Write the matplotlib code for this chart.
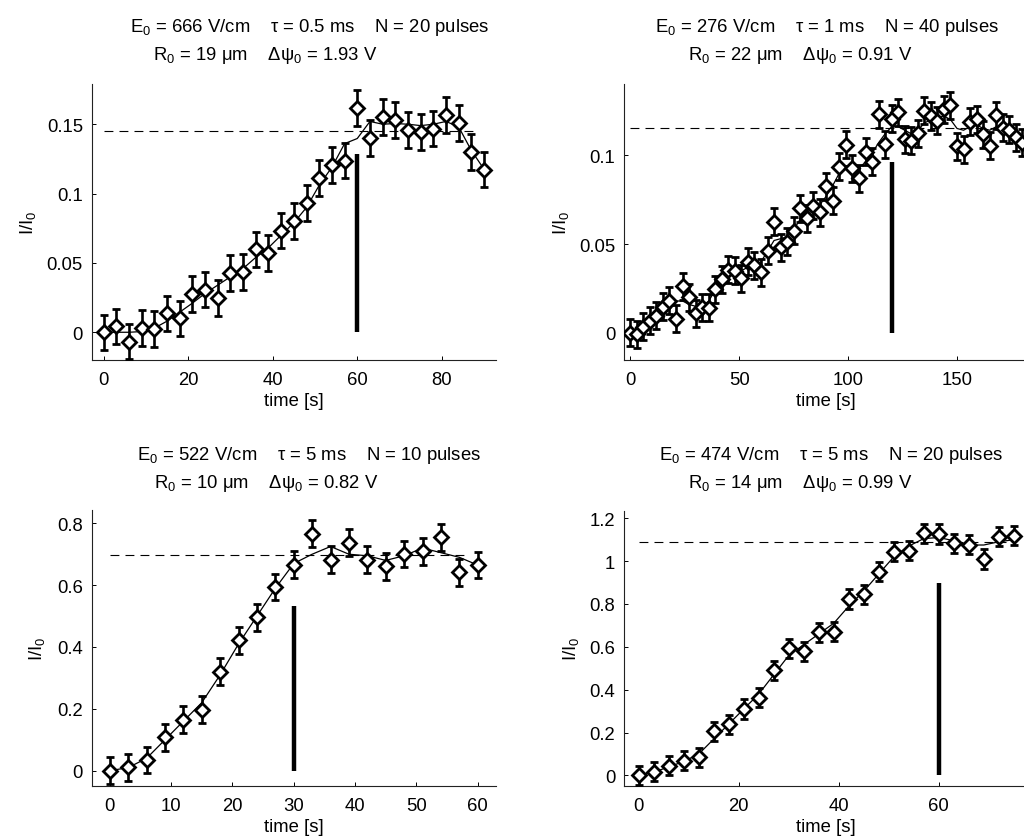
import matplotlib
matplotlib.use("Agg")
import matplotlib.pyplot as plt
from matplotlib.ticker import FuncFormatter
import numpy as np

plt.rcParams['font.family'] = ['Liberation Sans', 'DejaVu Sans']
plt.rcParams['mathtext.default'] = 'regular'
plt.rcParams['font.size'] = 13.3

# ---------------- data ----------------
# Panel A (top-left)
t_a = list(range(0, 91, 3))
y_a = [0.0, 0.0043, -0.0067, 0.003, 0.0024, 0.0137, 0.010, 0.0277, 0.0308, 0.0246,
       0.0426, 0.0433, 0.0597, 0.0573, 0.0732, 0.0802, 0.0932, 0.1112, 0.1206, 0.1238,
       0.1616, 0.1399, 0.1553, 0.1531, 0.1457, 0.1445, 0.1469, 0.1565, 0.151, 0.130, 0.1173]
fit_a = [0.0, 0.0, 0.0, 0.0005, 0.003, 0.008, 0.0145, 0.021, 0.028, 0.034,
         0.040, 0.046, 0.054, 0.061, 0.070, 0.079, 0.090, 0.106, 0.119, 0.136,
         0.1397, 0.152, 0.150, 0.1505, 0.150, 0.149, 0.150, 0.152, 0.148, 0.131, 0.1175]
err_a = 0.0128
plateau_a = 0.1452
stop_a = 60
bar_a = 0.1288

# Panel B (top-right)
t_b = list(range(0, 181, 3))
y_b = [0.0, -0.0006, 0.0036, 0.007, 0.0097, 0.0148, 0.018, 0.0079, 0.0262, 0.020,
       0.011, 0.0144, 0.0142, 0.0247, 0.0303, 0.0356, 0.035, 0.0309, 0.040, 0.0382,
       0.0341, 0.0463, 0.0625, 0.0481, 0.0513, 0.0575, 0.070, 0.0644, 0.0715, 0.068,
       0.0824, 0.0743, 0.0934, 0.1058, 0.0925, 0.0871, 0.1019, 0.0963, 0.123, 0.106,
       0.1206, 0.124, 0.109, 0.108, 0.1122, 0.1249, 0.122, 0.1193, 0.1258, 0.128,
       0.1049, 0.1034, 0.1187, 0.1202, 0.1118, 0.1052, 0.1225, 0.1155, 0.1142, 0.110, 0.107]
fit_b = [0.0, 0.001, 0.004, 0.007, 0.010, 0.014, 0.017, 0.018, 0.018, 0.016,
         0.015, 0.015, 0.018, 0.024, 0.030, 0.034, 0.035, 0.035, 0.037, 0.038,
         0.040, 0.046, 0.052, 0.053, 0.054, 0.058, 0.064, 0.067, 0.069, 0.072,
         0.077, 0.083, 0.090, 0.094, 0.094, 0.093, 0.096, 0.101, 0.107, 0.112,
         0.116, 0.116, 0.114, 0.112, 0.114, 0.118, 0.120, 0.121, 0.122, 0.120,
         0.115, 0.114, 0.116, 0.117, 0.115, 0.114, 0.116, 0.116, 0.114, 0.111, 0.108]
err_b = 0.0076
plateau_b = 0.1155
stop_b = 120
bar_b = 0.0963

# Panel C (bottom-left)
t_c = list(range(0, 61, 3))
y_c = [0.0, 0.011, 0.0345, 0.108, 0.165, 0.197, 0.320, 0.4216, 0.496, 0.594,
       0.666, 0.7666, 0.6825, 0.7375, 0.6825, 0.661, 0.701, 0.709, 0.7547, 0.6415, 0.665]
fit_c = [0.0, 0.01, 0.04, 0.10, 0.16, 0.22, 0.31, 0.41, 0.50, 0.59,
         0.67, 0.70, 0.725, 0.70, 0.695, 0.68, 0.695, 0.72, 0.705, 0.69, 0.665]
err_c = 0.043
plateau_c = 0.6976
stop_c = 30
bar_c = 0.5315

# Panel D (bottom-right)
t_d = list(range(0, 76, 3))
y_d = [0.0, 0.017, 0.045, 0.068, 0.084, 0.205, 0.238, 0.31, 0.363, 0.49,
       0.593, 0.579, 0.668, 0.671, 0.823, 0.845, 0.951, 1.044, 1.049, 1.130,
       1.127, 1.083, 1.077, 1.010, 1.114, 1.118]
fit_d = [0.0, 0.015, 0.04, 0.065, 0.10, 0.17, 0.24, 0.31, 0.38, 0.47,
         0.56, 0.61, 0.66, 0.71, 0.79, 0.86, 0.94, 1.02, 1.07, 1.105,
         1.11, 1.095, 1.075, 1.075, 1.09, 1.10]
err_d = 0.045
plateau_d = 1.088
stop_d = 60
bar_d = 0.8965

title1 = ['E$_0$ = 666 V/cm    τ = 0.5 ms    N = 20 pulses',
          'E$_0$ = 276 V/cm    τ = 1 ms    N = 40 pulses',
          'E$_0$ = 522 V/cm    τ = 5 ms    N = 10 pulses',
          'E$_0$ = 474 V/cm    τ = 5 ms    N = 20 pulses']
title2 = ['R$_0$ = 19 μm    Δψ$_0$ = 1.93 V',
          'R$_0$ = 22 μm    Δψ$_0$ = 0.91 V',
          'R$_0$ = 10 μm    Δψ$_0$ = 0.82 V',
          'R$_0$ = 14 μm    Δψ$_0$ = 0.99 V']
xticks = [[0, 20, 40, 60, 80], [0, 50, 100, 150], [0, 10, 20, 30, 40, 50, 60], [0, 20, 40, 60]]
yticks = [[0, 0.05, 0.1, 0.15], [0, 0.05, 0.1], [0, 0.2, 0.4, 0.6, 0.8],
          [0, 0.2, 0.4, 0.6, 0.8, 1.0, 1.2]]
xlims = [(-2.75, 92.7), (-2.75, 182.5), (-2.9, 62.9), (-2.9, 77.8)]
ylims = [(-0.02, 0.179), (-0.0152, 0.14), (-0.0485, 0.843), (-0.048, 1.236)]

# ---------------- layout (pixels) ----------------
W, H = 1024, 837
fig = plt.figure(figsize=(W / 100, H / 100), dpi=100)

ax_px = [(92, 85, 403.5, 276), (624.3, 85, 403.5, 276),
         (92, 511, 403.5, 275.7), (624.3, 511.5, 403.5, 275.2)]
t1_pos = [(309.5, 32), (827, 32), (309, 460), (831, 460)]
t2_pos = [(265, 60), (800, 60), (266, 488), (800, 488)]
ylab_x = [-0.135, -0.133, -0.112, -0.108]

panels = [(t_a, y_a, fit_a, err_a, plateau_a, stop_a, bar_a),
          (t_b, y_b, fit_b, err_b, plateau_b, stop_b, bar_b),
          (t_c, y_c, fit_c, err_c, plateau_c, stop_c, bar_c),
          (t_d, y_d, fit_d, err_d, plateau_d, stop_d, bar_d)]

fmt = FuncFormatter(lambda v, p: f'{v:g}')

for i, (t, y, fit, err, plat, stop, bar) in enumerate(panels):
    l, tp, w, h = ax_px[i]
    ax = fig.add_axes([l / W, 1 - (tp + h) / H, w / W, h / H])
    ax.plot(t, fit, color='black', lw=0.9, zorder=2)
    ax.plot([t[0], t[-1] - 1.5 * (t[1] - t[0]) / 3], [plat, plat], color='black', lw=0.8,
            dashes=(8, 5.5), zorder=1)
    ax.errorbar(t, y, yerr=err, fmt='D', color='black', mfc='white', mec='black',
                ms=6.8, mew=2.0, elinewidth=1.9, capsize=3.2, capthick=1.9, zorder=3)
    ax.plot([stop, stop], [0, bar], color='black', lw=3.2, solid_capstyle='butt', zorder=4)

    ax.set_xlim(*xlims[i])
    ax.set_ylim(*ylims[i])
    ax.set_xticks(xticks[i])
    ax.set_yticks(yticks[i])
    ax.xaxis.set_major_formatter(fmt)
    ax.yaxis.set_major_formatter(fmt)
    for s in ('top', 'right'):
        ax.spines[s].set_visible(False)
    for s in ('left', 'bottom'):
        ax.spines[s].set_linewidth(0.8)
        ax.spines[s].set_color('#222222')
    ax.tick_params(direction='in', length=3, width=0.7, labelsize=13.3)
    ax.tick_params(axis='y', pad=6.5)
    ax.tick_params(axis='x', pad=8)
    ax.set_xlabel('time [s]', labelpad=3)
    ax.set_ylabel('I/I$_0$')
    ax.yaxis.set_label_coords(ylab_x[i], 0.5)

    fig.text(t1_pos[i][0] / W, 1 - t1_pos[i][1] / H, title1[i], ha='center', va='baseline')
    fig.text(t2_pos[i][0] / W, 1 - t2_pos[i][1] / H, title2[i], ha='center', va='baseline')

fig.savefig('out.png', dpi=100)
